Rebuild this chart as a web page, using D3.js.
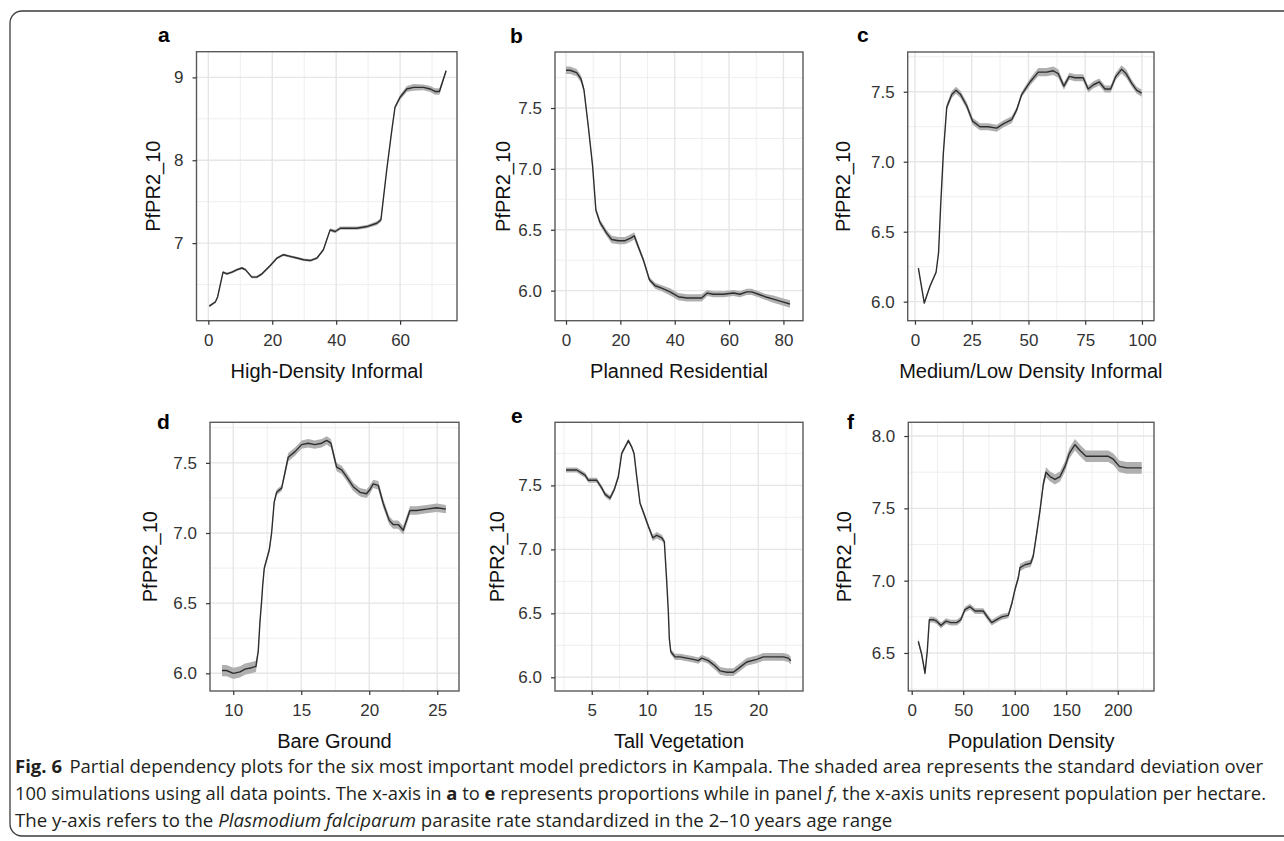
<!DOCTYPE html>
<html>
<head>
<meta charset="utf-8">
<script src="https://cdn.jsdelivr.net/npm/d3@7"></script>
<style>
  body { margin: 0; background: #fff; }
  svg { display: block; }
</style>
</head>
<body>
<svg id="fig" width="1284" height="841"></svg>
<script>
// ---- data ----
// a: High-Density Informal
const aX = [0.3, 2.2, 2.9, 4.6, 5.8, 7.4, 9.0, 10.5, 11.6, 13.6, 15.2, 16.8, 19.4, 21.5, 23.5, 25.6, 27.7, 29.8, 31.9, 34.0, 36.0, 38.1, 39.7, 41.3, 43.3, 46.5, 49.6, 52.7, 54.0, 55.8, 57.4, 58.4, 60.0, 62.1, 64.2, 67.3, 69.4, 70.9, 72.3, 74.4];
const aY = [6.24, 6.29, 6.35, 6.65, 6.63, 6.65, 6.68, 6.70, 6.68, 6.59, 6.59, 6.63, 6.73, 6.82, 6.86, 6.84, 6.82, 6.80, 6.79, 6.82, 6.92, 7.16, 7.14, 7.18, 7.18, 7.18, 7.20, 7.24, 7.28, 7.88, 8.36, 8.64, 8.76, 8.86, 8.88, 8.88, 8.86, 8.83, 8.83, 9.08];
const aSd = [0.015, 0.015, 0.015, 0.015, 0.015, 0.015, 0.015, 0.015, 0.015, 0.015, 0.015, 0.015, 0.015, 0.015, 0.015, 0.015, 0.015, 0.015, 0.015, 0.015, 0.015, 0.02, 0.02, 0.02, 0.02, 0.02, 0.02, 0.025, 0.025, 0.02, 0.02, 0.025, 0.03, 0.035, 0.04, 0.035, 0.035, 0.04, 0.04, 0.02];
// b: Planned Residential
const bX = [0, 1.5, 3.9, 5.5, 6.6, 8.2, 9.8, 11.0, 12.5, 15.0, 16.8, 19.3, 21.7, 23.6, 25.1, 26.6, 28.5, 30.7, 32.8, 35.2, 38.3, 41.3, 44.4, 49.9, 52.0, 54.2, 57.9, 61.6, 64.0, 66.5, 68.3, 70.8, 73.2, 76.3, 79.4, 82.4];
const bY = [7.81, 7.81, 7.79, 7.74, 7.65, 7.35, 7.02, 6.66, 6.56, 6.47, 6.42, 6.41, 6.41, 6.43, 6.45, 6.36, 6.25, 6.09, 6.04, 6.02, 5.99, 5.95, 5.94, 5.94, 5.98, 5.97, 5.97, 5.98, 5.97, 5.99, 5.99, 5.97, 5.95, 5.93, 5.91, 5.89];
const bSd = [0.03, 0.03, 0.03, 0.03, 0.025, 0.02, 0.02, 0.02, 0.025, 0.025, 0.03, 0.03, 0.03, 0.03, 0.03, 0.025, 0.02, 0.02, 0.025, 0.025, 0.03, 0.03, 0.03, 0.03, 0.025, 0.025, 0.025, 0.025, 0.025, 0.025, 0.025, 0.025, 0.025, 0.03, 0.03, 0.03];
// c: Medium/Low Density Informal
const cX = [1.5, 4.1, 6.6, 9.3, 10.4, 11.3, 12.5, 14.0, 16.2, 18.1, 20.1, 22.8, 25.4, 28.6, 32.3, 36.0, 38.9, 42.6, 44.8, 47.0, 50.7, 54.3, 58.0, 60.9, 63.1, 65.6, 68.0, 70.5, 74.1, 76.3, 78.6, 81.2, 83.7, 86.2, 88.5, 91.0, 93.0, 95.5, 97.7, 99.9];
const cY = [6.24, 5.99, 6.11, 6.21, 6.35, 6.68, 7.06, 7.39, 7.48, 7.51, 7.48, 7.40, 7.29, 7.25, 7.25, 7.24, 7.27, 7.30, 7.37, 7.48, 7.57, 7.64, 7.64, 7.65, 7.63, 7.54, 7.61, 7.60, 7.60, 7.52, 7.55, 7.57, 7.52, 7.52, 7.61, 7.66, 7.63, 7.56, 7.51, 7.49];
const cSd = [0.01, 0.01, 0.01, 0.01, 0.01, 0.01, 0.015, 0.02, 0.025, 0.025, 0.025, 0.025, 0.025, 0.025, 0.025, 0.025, 0.025, 0.025, 0.02, 0.02, 0.025, 0.03, 0.03, 0.03, 0.03, 0.025, 0.025, 0.025, 0.025, 0.025, 0.025, 0.025, 0.025, 0.025, 0.025, 0.03, 0.03, 0.025, 0.025, 0.025];
// d: Bare Ground
const dX = [9.17, 9.51, 10.0, 10.5, 10.86, 11.35, 11.67, 11.84, 11.96, 12.09, 12.16, 12.28, 12.65, 12.82, 13.01, 13.19, 13.56, 14.04, 14.54, 15.03, 15.51, 16.0, 16.5, 16.87, 17.18, 17.35, 17.6, 17.97, 18.34, 18.82, 19.32, 19.8, 20.05, 20.29, 20.66, 21.03, 21.47, 21.76, 22.13, 22.5, 22.99, 23.49, 24.22, 24.96, 25.64];
const dY = [6.02, 6.02, 6.0, 6.01, 6.03, 6.04, 6.05, 6.16, 6.36, 6.52, 6.62, 6.75, 6.88, 7.0, 7.22, 7.29, 7.32, 7.54, 7.58, 7.63, 7.64, 7.63, 7.64, 7.66, 7.64, 7.57, 7.47, 7.45, 7.40, 7.33, 7.29, 7.28, 7.31, 7.35, 7.34, 7.21, 7.09, 7.06, 7.06, 7.02, 7.16, 7.16, 7.17, 7.18, 7.17];
const dSd = [0.04, 0.04, 0.04, 0.04, 0.04, 0.04, 0.04, 0.02, 0.02, 0.02, 0.02, 0.02, 0.02, 0.02, 0.02, 0.02, 0.02, 0.03, 0.03, 0.03, 0.03, 0.03, 0.03, 0.03, 0.03, 0.03, 0.03, 0.03, 0.03, 0.03, 0.03, 0.03, 0.03, 0.03, 0.03, 0.03, 0.03, 0.03, 0.03, 0.03, 0.03, 0.03, 0.03, 0.03, 0.03];
// e: Tall Vegetation
const eX = [2.68, 3.65, 4.4, 4.7, 5.45, 5.9, 6.2, 6.65, 7.04, 7.4, 7.7, 8.0, 8.3, 8.6, 8.81, 9.05, 9.35, 9.65, 10.1, 10.5, 10.86, 11.31, 11.54, 11.76, 11.9, 11.99, 12.12, 12.5, 12.95, 13.56, 14.15, 14.6, 14.91, 15.5, 16.1, 16.56, 17.16, 17.76, 18.36, 18.96, 19.86, 20.46, 21.36, 22.26, 22.71, 22.93];
const eY = [7.62, 7.62, 7.58, 7.54, 7.54, 7.48, 7.43, 7.40, 7.47, 7.57, 7.75, 7.80, 7.85, 7.80, 7.75, 7.57, 7.36, 7.29, 7.18, 7.09, 7.11, 7.09, 7.06, 6.74, 6.51, 6.30, 6.20, 6.16, 6.16, 6.15, 6.14, 6.13, 6.15, 6.13, 6.09, 6.05, 6.04, 6.04, 6.08, 6.12, 6.14, 6.16, 6.16, 6.16, 6.15, 6.13];
const eSd = [0.02, 0.02, 0.02, 0.02, 0.02, 0.02, 0.02, 0.02, 0.02, 0.02, 0.015, 0.015, 0.015, 0.015, 0.015, 0.015, 0.015, 0.02, 0.02, 0.025, 0.025, 0.025, 0.02, 0.015, 0.015, 0.015, 0.02, 0.025, 0.025, 0.025, 0.025, 0.025, 0.025, 0.025, 0.03, 0.03, 0.03, 0.03, 0.03, 0.03, 0.03, 0.03, 0.03, 0.03, 0.03, 0.03];
// f: Population Density
const fX = [6.4, 9.7, 12.9, 15.2, 17.1, 21.0, 24.3, 28.4, 33.3, 37.9, 43.7, 47.6, 51.7, 56.6, 61.5, 65.6, 69.5, 74.4, 77.7, 82.5, 87.4, 93.8, 97.1, 100.3, 103.5, 105.1, 110.0, 115.5, 118.0, 121.4, 124.6, 127.8, 130.4, 134.3, 139.1, 144.0, 148.8, 153.0, 158.5, 163.4, 169.2, 176.3, 184.5, 190.9, 195.7, 201.6, 208.7, 216.8, 223.3];
const fY = [6.58, 6.49, 6.36, 6.52, 6.73, 6.73, 6.72, 6.69, 6.72, 6.71, 6.71, 6.73, 6.80, 6.82, 6.79, 6.79, 6.79, 6.74, 6.71, 6.73, 6.75, 6.76, 6.84, 6.94, 7.02, 7.09, 7.11, 7.12, 7.17, 7.33, 7.49, 7.67, 7.75, 7.72, 7.70, 7.72, 7.79, 7.88, 7.94, 7.90, 7.86, 7.86, 7.86, 7.86, 7.84, 7.79, 7.78, 7.78, 7.78];
const fSd = [0.02, 0.02, 0.02, 0.02, 0.02, 0.02, 0.02, 0.02, 0.02, 0.02, 0.02, 0.02, 0.02, 0.02, 0.02, 0.02, 0.02, 0.02, 0.02, 0.02, 0.02, 0.02, 0.02, 0.02, 0.02, 0.025, 0.025, 0.025, 0.025, 0.025, 0.025, 0.03, 0.035, 0.035, 0.035, 0.035, 0.035, 0.035, 0.04, 0.04, 0.04, 0.04, 0.04, 0.04, 0.04, 0.04, 0.04, 0.04, 0.04];

// tick values and labels
const aTicksX = [0, 20, 40, 60], aTicksY = [7, 8, 9];
const bTicksX = [0, 20, 40, 60, 80], bTicksY = [6.0, 6.5, 7.0, 7.5];
const cTicksX = [0, 25, 50, 75, 100], cTicksY = [6.0, 6.5, 7.0, 7.5];
const dTicksX = [10, 15, 20, 25], dTicksY = [6.0, 6.5, 7.0, 7.5];
const eTicksX = [5, 10, 15, 20], eTicksY = [6.0, 6.5, 7.0, 7.5];
const fTicksX = [0, 50, 100, 150, 200], fTicksY = [6.5, 7.0, 7.5, 8.0];
const panelLetters = ['a', 'b', 'c', 'd', 'e', 'f'];
const xTitles = ['High-Density Informal', 'Planned Residential', 'Medium/Low Density Informal', 'Bare Ground', 'Tall Vegetation', 'Population Density'];
const yTitle = 'PfPR2_10';

// layout for each panel (frame in px, axis domains, label spots)
const panels = [
  { x: aX, y: aY, sd: aSd, tx: aTicksX, ty: aTicksY, fmt: d3.format('d'),
    left: 196.5, right: 457, top: 51.7, bottom: 320.7, xd: [-3.7, 77.8], yd: [6.064, 9.31],
    letter: [158, 42], yTitleX: 160 },
  { x: bX, y: bY, sd: bSd, tx: bTicksX, ty: bTicksY, fmt: d3.format('.1f'),
    left: 555, right: 803, top: 52, bottom: 320.7, xd: [-4.05, 87.2], yd: [5.753, 7.96],
    letter: [510, 43], yTitleX: 510 },
  { x: cX, y: cY, sd: cSd, tx: cTicksX, ty: cTicksY, fmt: d3.format('.1f'),
    left: 907.7, right: 1154, top: 52, bottom: 320.7, xd: [-3.2, 105.3], yd: [5.864, 7.784],
    letter: [857, 42], yTitleX: 850 },
  { x: dX, y: dY, sd: dSd, tx: dTicksX, ty: dTicksY, fmt: d3.format('.1f'),
    left: 210, right: 459, top: 422.3, bottom: 691, xd: [8.29, 26.6], yd: [5.874, 7.789],
    letter: [157, 429], yTitleX: 157 },
  { x: eX, y: eY, sd: eSd, tx: eTicksX, ty: eTicksY, fmt: d3.format('.1f'),
    left: 555, right: 803, top: 422.3, bottom: 691, xd: [1.69, 24.03], yd: [5.893, 7.993],
    letter: [511, 423], yTitleX: 504 },
  { x: fX, y: fY, sd: fSd, tx: fTicksX, ty: fTicksY, fmt: d3.format('.1f'),
    left: 908.3, right: 1154, top: 422.3, bottom: 691, xd: [-3.3, 235.2], yd: [6.237, 8.095],
    letter: [847, 429], yTitleX: 851 }
];

const font = '"Liberation Sans", Arial, Helvetica, sans-serif';
const svg = d3.select('#fig');

// outer figure box, rounded on the left
svg.append('path')
  .attr('d', 'M1290,11 H22 A12,12 0 0 0 10,23 V824 A12,12 0 0 0 22,836 H1290')
  .attr('fill', 'none')
  .attr('stroke', '#3c3c3c')
  .attr('stroke-width', 1.3);

// midpoints between major breaks, like ggplot minor grid
const minorOf = (ticks, dom) => {
  const step = ticks[1] - ticks[0];
  const out = [];
  for (let v = ticks[0] - step / 2; v <= dom[1]; v += step) {
    if (v >= dom[0]) out.push(v);
  }
  return out;
};

panels.forEach((p, i) => {
  const x = d3.scaleLinear().domain(p.xd).range([p.left, p.right]);
  const y = d3.scaleLinear().domain(p.yd).range([p.bottom, p.top]);
  const g = svg.append('g');

  // grid
  const grid = g.append('g');
  minorOf(p.tx, p.xd).forEach(v => grid.append('line')
    .attr('x1', x(v)).attr('x2', x(v)).attr('y1', p.top).attr('y2', p.bottom)
    .attr('stroke', '#efefef').attr('stroke-width', 1));
  minorOf(p.ty, p.yd).forEach(v => grid.append('line')
    .attr('y1', y(v)).attr('y2', y(v)).attr('x1', p.left).attr('x2', p.right)
    .attr('stroke', '#efefef').attr('stroke-width', 1));
  p.tx.forEach(v => grid.append('line')
    .attr('x1', x(v)).attr('x2', x(v)).attr('y1', p.top).attr('y2', p.bottom)
    .attr('stroke', '#e6e6e6').attr('stroke-width', 1.4));
  p.ty.forEach(v => grid.append('line')
    .attr('y1', y(v)).attr('y2', y(v)).attr('x1', p.left).attr('x2', p.right)
    .attr('stroke', '#e6e6e6').attr('stroke-width', 1.4));

  const rows = p.x.map((xv, k) => ({ x: xv, y: p.y[k], sd: p.sd[k] }));

  // shaded sd band
  g.append('path')
    .datum(rows)
    .attr('fill', '#b0b0b0')
    .attr('d', d3.area()
      .x(d => x(d.x))
      .y0(d => y(d.y - d.sd))
      .y1(d => y(d.y + d.sd)));

  // mean line
  g.append('path')
    .datum(rows)
    .attr('fill', 'none')
    .attr('stroke', '#2e2e2e')
    .attr('stroke-width', 1.4)
    .attr('stroke-linejoin', 'round')
    .attr('d', d3.line().x(d => x(d.x)).y(d => y(d.y)));

  // panel border
  g.append('rect')
    .attr('x', p.left).attr('y', p.top)
    .attr('width', p.right - p.left).attr('height', p.bottom - p.top)
    .attr('fill', 'none')
    .attr('stroke', '#5a5a5a')
    .attr('stroke-width', 1.4);

  // axes
  const xAxis = g.append('g')
    .attr('transform', `translate(0,${p.bottom})`)
    .call(d3.axisBottom(x).tickValues(p.tx).tickSize(4).tickPadding(9).tickFormat(d3.format('d')));
  const yAxis = g.append('g')
    .attr('transform', `translate(${p.left},0)`)
    .call(d3.axisLeft(y).tickValues(p.ty).tickSize(4).tickPadding(9).tickFormat(p.fmt));
  [xAxis, yAxis].forEach(ax => {
    ax.select('.domain').remove();
    ax.selectAll('.tick line').attr('stroke', '#333').attr('stroke-width', 1.2);
    ax.selectAll('.tick text')
      .attr('fill', '#333')
      .attr('font-family', font)
      .attr('font-size', '17px');
  });

  // axis titles
  g.append('text')
    .attr('x', (p.left + p.right) / 2)
    .attr('y', p.bottom + 57)
    .attr('text-anchor', 'middle')
    .attr('font-family', font)
    .attr('font-size', '20px')
    .attr('fill', '#111')
    .text(xTitles[i]);

  g.append('text')
    .attr('transform', `translate(${p.yTitleX},${(p.top + p.bottom) / 2}) rotate(-90)`)
    .attr('text-anchor', 'middle')
    .attr('font-family', font)
    .attr('font-size', '20px')
    .attr('fill', '#111')
    .text(yTitle);

  // panel letter
  g.append('text')
    .attr('x', p.letter[0])
    .attr('y', p.letter[1])
    .attr('font-family', font)
    .attr('font-size', '21px')
    .attr('font-weight', 'bold')
    .attr('fill', '#000')
    .text(panelLetters[i]);
});

// caption
const captionLines = [
  [{ t: 'Fig. 6', b: true }, { t: 'Partial dependency plots for the six most important model predictors in Kampala. The shaded area represents the standard deviation over', dx: 7 }],
  [{ t: '100 simulations using all data points. The x-axis in ' }, { t: 'a', b: true }, { t: ' to ' }, { t: 'e', b: true },
   { t: ' represents proportions while in panel ' }, { t: 'f', i: true }, { t: ', the x-axis units represent population per hectare.' }],
  [{ t: 'The y-axis refers to the ' }, { t: 'Plasmodium falciparum', i: true }, { t: ' parasite rate standardized in the 2\u201310 years age range' }]
];
const captionBase = [772.5, 800, 827.3];
const captionEnd = [1263, 1266];
const capFont = '"Liberation Sans Narrow", "Open Sans", sans-serif';

const capTexts = captionLines.map((parts, li) => {
  const t = svg.append('text')
    .attr('x', 15)
    .attr('y', captionBase[li])
    .attr('font-family', capFont)
    .attr('font-size', '17.5px')
    .attr('fill', '#231f20')
    .attr('xml:space', 'preserve');
  parts.forEach(s => {
    const ts = t.append('tspan').text(s.t);
    if (s.b) ts.attr('font-weight', 'bold');
    if (s.i) ts.attr('font-style', 'italic');
    if (s.dx) ts.attr('dx', s.dx);
  });
  return t;
});
// fit widths to the reference text block
const natural = capTexts.map(t => t.node().getComputedTextLength());
const ratio = (captionEnd[0] - 15) / natural[0];
capTexts.forEach((t, li) => {
  const target = li < 2 ? captionEnd[li] - 15 : natural[li] * ratio;
  t.attr('textLength', target).attr('lengthAdjust', 'spacingAndGlyphs');
});
</script>
</body>
</html>
